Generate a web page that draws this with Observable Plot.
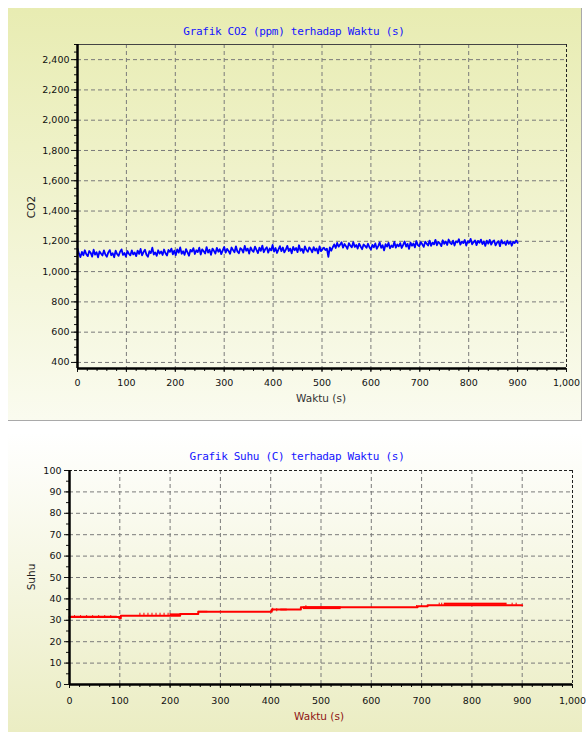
<!DOCTYPE html>
<html>
<head>
<meta charset="utf-8">
<script src="https://cdn.jsdelivr.net/npm/d3@7"></script>
<script src="https://cdn.jsdelivr.net/npm/@observablehq/plot@0.6"></script>
<style>
  body { margin:0; width:586px; height:732px; position:relative; background:#fff; overflow:hidden; }
  .panel { position:absolute; }
  .title { position:absolute; font-family:"DejaVu Sans Mono", monospace; font-size:11px; letter-spacing:-0.3px; color:#1414ff; white-space:nowrap; transform:translate(-50%,-50%); }
  .xlab { position:absolute; font-family:"DejaVu Sans", sans-serif; font-size:10.5px; white-space:nowrap; transform:translate(-50%,-50%); }
  .ylab { position:absolute; font-family:"DejaVu Sans", sans-serif; font-size:10.5px; white-space:nowrap; transform:translate(-50%,-50%) rotate(-90deg); color:#222; }
  .chart { position:absolute; left:0; }
</style>
</head>
<body>
<div class="panel" style="left:8px;top:8px;width:573px;height:412px;background:linear-gradient(#e8ecb2,#fafbef);border-right:1px solid #a9a9a9;border-bottom:1px solid #a9a9a9;"></div>
<div class="panel" style="left:8px;top:432px;width:574px;height:300px;background:linear-gradient(#ffffff,#ebedc3);"></div>
<div id="top" class="chart" style="top:0px;"></div>
<div id="bottom" class="chart" style="top:432px;"></div>
<div class="title" style="left:294px;top:31px;">Grafik CO2 (ppm) terhadap Waktu (s)</div>
<div class="ylab" style="left:31px;top:207px;">CO2</div>
<div class="xlab" style="left:321px;top:398px;color:#333;">Waktu (s)</div>
<div class="title" style="left:297px;top:456px;">Grafik Suhu (C) terhadap Waktu (s)</div>
<div class="ylab" style="left:31px;top:577px;">Suhu</div>
<div class="xlab" style="left:319px;top:716px;color:#8e1414;">Waktu (s)</div>
<script>
// ---------- DATA ----------
// CO2 (ppm) sampled every 3 s from 0 to 900 s
const co2Step = 3;
const co2Values = [
  1152,1118,1096,1130,1108,1141,1115,1102,1136,1124,1099,1145,1112,1128,1094,1133,1119,1106,1140,1113,
  1098,1127,1142,1108,1121,1095,1138,1116,1104,1131,1147,1110,1123,1099,1136,1118,1107,1140,1114,1126,
  1102,1139,1117,1150,1108,1129,1144,1111,1098,1135,1122,1158,1113,1127,1104,1141,1119,1133,1110,1146,
  1121,1106,1143,1130,1152,1114,1138,1109,1147,1125,1160,1118,1134,1111,1149,1127,1105,1144,1132,1155,
  1116,1141,1129,1158,1113,1147,1134,1120,1162,1126,1144,1111,1152,1137,1119,1157,1131,1148,1115,1140,
  1163,1125,1150,1136,1118,1159,1142,1128,1167,1133,1121,1155,1146,1126,1170,1138,1152,1119,1160,1141,
  1131,1165,1144,1122,1158,1137,1172,1128,1149,1161,1125,1153,1140,1176,1132,1156,1123,1147,1168,1135,
  1159,1127,1145,1170,1136,1152,1121,1163,1141,1156,1129,1174,1138,1150,1124,1166,1143,1131,1160,1147,
  1128,1162,1139,1153,1120,1167,1135,1148,1158,1142,1152,1097,1160,1138,1161,1180,1156,1189,1165,1178,
  1194,1158,1182,1168,1150,1188,1171,1160,1195,1163,1176,1152,1185,1166,1148,1179,1170,1157,1184,1161,
  1145,1177,1160,1186,1151,1168,1193,1157,1174,1140,1181,1165,1190,1154,1172,1162,1196,1158,1179,1167,
  1188,1156,1177,1199,1165,1183,1150,1192,1171,1186,1160,1202,1175,1168,1195,1180,1163,1198,1185,1172,
  1205,1170,1191,1180,1210,1174,1196,1186,1168,1207,1183,1199,1176,1212,1190,1181,1205,1172,1200,1193,
  1214,1178,1198,1188,1209,1172,1201,1193,1216,1180,1195,1206,1175,1203,1190,1211,1182,1199,1170,1204,
  1185,1210,1178,1197,1206,1173,1192,1201,1168,1208,1186,1195,1176,1204,1183,1200,1171,1196,1188,1205,
  1190
];
// Temperature (C): step segments [start s, end s, value]
const tempSegments = [
  [0, 99, 31.6], [99, 102, 31.0], [102, 220, 32.1], [220, 256, 33.0],
  [256, 402, 34.0], [402, 460, 35.0], [460, 692, 36.1], [692, 712, 36.6], [712, 900, 37.0]
];
// Rapid flicker bands between two readings [start s, end s, low, high]
const tempBands = [
  [2, 95, 31.3, 31.9], [200, 222, 32.1, 33.0], [256, 275, 33.5, 34.2],
  [420, 433, 34.4, 35.2], [465, 540, 35.0, 36.3], [745, 870, 37.0, 38.0]
];
// Single-sample spikes [time s, from, to]
const tempSpikes = [
  [10,31.6,32.2],[22,31.6,32.2],[34,31.6,32.2],[46,31.6,32.2],[58,31.6,32.2],[70,31.6,32.2],[82,31.6,32.2],
  [140,32.1,33.3],[148,32.1,33.3],[156,32.1,33.3],[164,32.1,33.3],[172,32.1,33.3],[180,32.1,33.3],[188,32.1,33.3],[196,32.1,33.3],
  [404,34.0,35.6],[412,34.0,35.4],[470,36.1,36.8],[690,36.1,36.9],[700,36.1,36.9],
  [735,37.0,38.0],[740,37.0,38.0],[880,37.0,38.0],[888,37.0,38.0]
];
// Axis ticks
const co2XTicks = [0,100,200,300,400,500,600,700,800,900,1000];
const co2YTicks = [400,600,800,1000,1200,1400,1600,1800,2000,2200,2400];
const tempYTicks = [0,10,20,30,40,50,60,70,80,90,100];

// ---------- BUILD ----------
const co2 = co2Values.map((v, i) => ({t: i * co2Step, v}));
const temp = tempSegments.map(d => ({t: d[0], v: d[2]}));
temp.push({t: tempSegments[tempSegments.length - 1][1], v: tempSegments[tempSegments.length - 1][2]});

const fmt = d3.format(",");
const gridStyle = {stroke: "#7a7a7a", strokeOpacity: 1, strokeDasharray: "4,3", strokeWidth: 1};
const xMinor = d3.range(0, 1001, 20);

const topChart = Plot.plot({
  width: 586, height: 420,
  marginLeft: 77, marginRight: 20, marginTop: 44, marginBottom: 52,
  x: {domain: [0, 1000]},
  y: {domain: [360, 2500]},
  style: {background: "transparent", fontFamily: "DejaVu Sans, sans-serif", fontSize: "9.5px", color: "#111", overflow: "visible"},
  marks: [
    Plot.gridX(co2XTicks.slice(1, -1), gridStyle),
    Plot.gridY(co2YTicks, gridStyle),
    Plot.ruleY([2500], {stroke: "#444", strokeWidth: 1}),
    Plot.ruleX([1000], {stroke: "#222", strokeDasharray: "3,2"}),
    Plot.axisX(xMinor, {tickSize: 3, tickFormat: () => "", label: null}),
    Plot.axisX(co2XTicks, {tickSize: 4, tickPadding: 7, tickFormat: fmt, label: null}),
    Plot.axisY(d3.range(400, 2501, 50), {tickSize: 3, tickFormat: () => "", label: null}),
    Plot.axisY(co2YTicks, {tickSize: 6, tickPadding: 2, tickFormat: fmt, label: null}),
    Plot.line(co2, {x: "t", y: "v", stroke: "#0000ff", strokeWidth: 1.8}),
    Plot.ruleX([0], {stroke: "#000", strokeWidth: 2.5}),
    Plot.ruleY([360], {stroke: "#000", strokeWidth: 2.5})
  ]
});
document.getElementById("top").appendChild(topChart);

const bottomChart = Plot.plot({
  width: 586, height: 300,
  marginLeft: 69, marginRight: 14, marginTop: 38, marginBottom: 48,
  x: {domain: [0, 1000]},
  y: {domain: [0, 100]},
  style: {background: "transparent", fontFamily: "DejaVu Sans, sans-serif", fontSize: "9.5px", color: "#111", overflow: "visible"},
  marks: [
    Plot.gridX(co2XTicks.slice(1, -1), gridStyle),
    Plot.gridY(tempYTicks.slice(1, -1), gridStyle),
    Plot.ruleY([100], {stroke: "#222", strokeDasharray: "3,2"}),
    Plot.ruleX([1000], {stroke: "#222", strokeDasharray: "3,2"}),
    Plot.axisX(xMinor, {tickSize: 3, tickFormat: () => "", label: null}),
    Plot.axisX(co2XTicks, {tickSize: 4, tickPadding: 9, tickFormat: fmt, label: null}),
    Plot.axisY(d3.range(0, 101, 5), {tickSize: 3, tickFormat: () => "", label: null}),
    Plot.axisY(tempYTicks, {tickSize: 5, tickPadding: 3, label: null}),
    Plot.rect(tempBands, {x1: d => d[0], x2: d => d[1], y1: d => d[2], y2: d => d[3], fill: "#ff0000"}),
    Plot.ruleX(tempSpikes, {x: d => d[0], y1: d => d[1], y2: d => d[2], stroke: "#ff0000", strokeWidth: 1}),
    Plot.line(temp, {x: "t", y: "v", curve: "step-after", stroke: "#ff0000", strokeWidth: 2}),
    Plot.ruleX([0], {stroke: "#000", strokeWidth: 2.5}),
    Plot.ruleY([0], {stroke: "#000", strokeWidth: 2.5})
  ]
});
document.getElementById("bottom").appendChild(bottomChart);
</script>
</body>
</html>
